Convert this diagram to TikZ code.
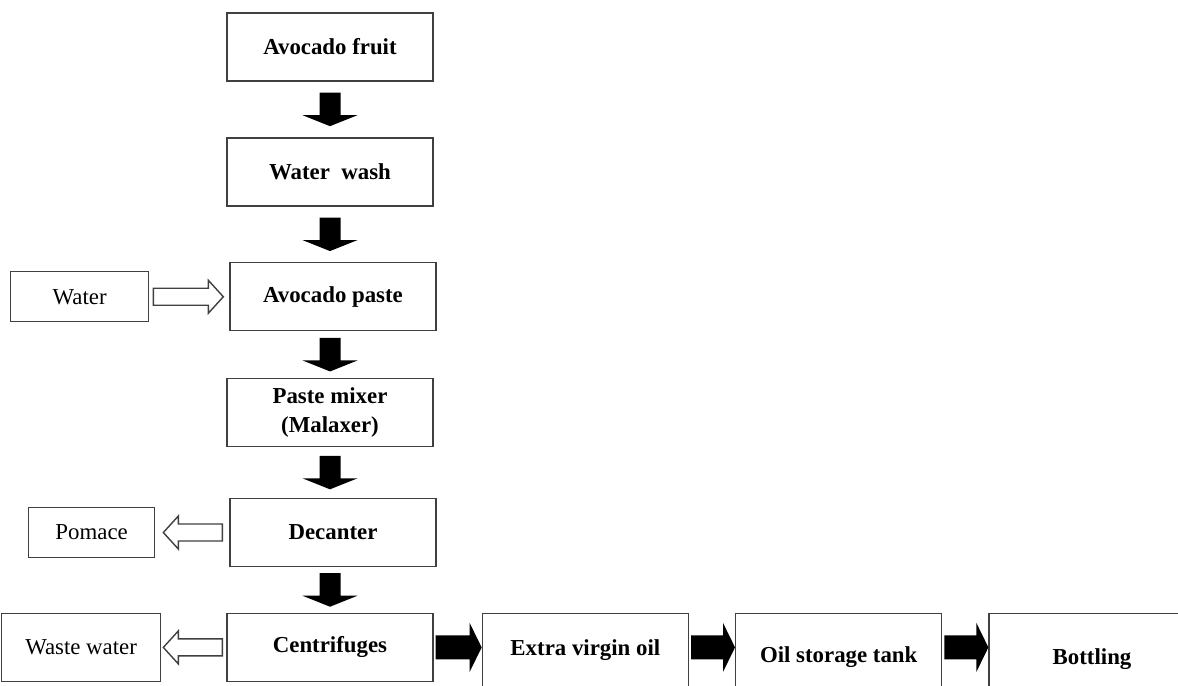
\documentclass[tikz,border=0pt]{standalone}
\usepackage{fontspec}
\setmainfont{Liberation Serif}
\usetikzlibrary{positioning,calc}

\begin{document}
\begin{tikzpicture}[x=0.02cm, y=-0.02cm, node distance=1.11cm,
    box/.style={draw=black!75, line width=0.8pt, font=\fontsize{13}{16.5}\selectfont\bfseries, align=center, minimum width=4.12cm, minimum height=1.36cm},
    sidebox/.style={draw=black!75, line width=0.8pt, font=\fontsize{13}{16.5}\selectfont, minimum height=1cm},
    lowbox/.style={box, minimum height=0pt, inner ysep=0pt, text depth=1.1cm},
    fatarrow/.style n args={5}{to path={
      ($(\tikztostart)!#1!(\tikztotarget)$) coordinate (fa-s)
      ($(\tikztotarget)!#2!(\tikztostart)$) coordinate (fa-t)
      ($(fa-t)!#5!(fa-s)$) coordinate (fa-b)
      ($(fa-s)!#3!90:(fa-t)$) -- ($(fa-b)!#3!-90:(fa-s)$) -- ($(fa-b)!#4!-90:(fa-s)$) -- (fa-t)
      -- ($(fa-b)!#4!90:(fa-s)$) -- ($(fa-b)!#3!90:(fa-s)$) -- ($(fa-s)!#3!-90:(fa-t)$) -- cycle}},
    down/.style={fatarrow={#1}{#1}{0.21cm}{0.55cm}{0.22cm}, fill=black},
    down/.default=0.22cm,
    across/.style={fatarrow={0.04cm}{0cm}{0.24cm}{0.49cm}{0.24cm}, fill=black},
    hollow/.style 2 args={fatarrow={#1}{#2}{0.17cm}{0.33cm}{0.3cm}, draw=black!75, line width=0.8pt, fill=white}]
    \useasboundingbox (0,0) rectangle (1178,686);
    \clip (0,0) rectangle (1178,686);
    \node[box] (fruit) at (330,47) {Avocado fruit};
    \node[box, below=of fruit] (wash) {Water\ \ wash};
    \node[box, below=of wash, xshift=0.06cm] (paste) {Avocado paste};
    \node[box, below=0.93cm of paste, xshift=-0.06cm] (mixer) {Paste mixer\\(Malaxer)};
    \node[box, below=1.01cm of mixer, xshift=0.06cm] (decanter) {Decanter};
    \node[box, below=0.91cm of decanter, xshift=-0.06cm] (centrifuges) {Centrifuges};
    \node[sidebox, minimum width=2.76cm, left=1.6cm of paste] (water) {Water};
    \node[sidebox, minimum width=2.52cm, left=1.48cm of decanter] (pomace) {Pomace};
    \node[sidebox, minimum width=3.18cm, minimum height=1.36cm, left=1.3cm of centrifuges] (waste) {Waste water};
    \node[lowbox, text height=0.84cm, right=0.96cm of centrifuges.north east, anchor=north west] (extra) {Extra virgin oil};
    \node[lowbox, text height=0.98cm, right=0.92cm of extra.north east, anchor=north west] (tank) {Oil storage tank};
    \node[lowbox, text height=1.02cm, right=0.92cm of tank.north east, anchor=north west] (bottling) {Bottling};
    \fill[down] (fruit.south) to (wash.north);
    \fill[down] (wash.south) to (wash.south |- paste.north);
    \fill[down=0.13cm] (mixer.north |- paste.south) to (mixer.north);
    \fill[down=0.17cm] (mixer.south) to (mixer.south |- decanter.north);
    \fill[down=0.12cm] (centrifuges.north |- decanter.south) to (centrifuges.north);
    \draw[hollow={0.08cm}{0.12cm}] (water.east) to (paste.west);
    \draw[hollow={0.14cm}{0.16cm}] (decanter.west) to (pomace.east);
    \draw[hollow={0.08cm}{0.04cm}] (centrifuges.west) to (waste.east);
    \fill[across] (centrifuges.east) to (centrifuges.east -| extra.west);
    \fill[across] (extra.east |- centrifuges.east) to (tank.west |- centrifuges.east);
    \fill[across] (tank.east |- centrifuges.east) to (bottling.west |- centrifuges.east);
\end{tikzpicture}
\end{document}
